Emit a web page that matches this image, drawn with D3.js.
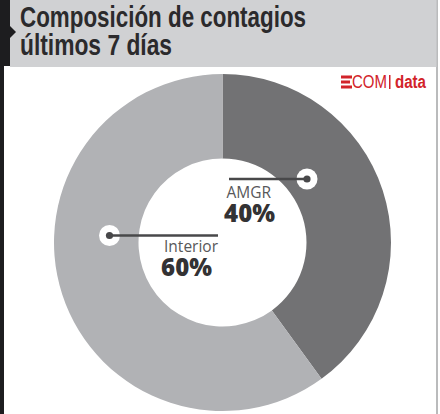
<!DOCTYPE html>
<html>
<head>
<meta charset="utf-8">
<script src="https://cdn.jsdelivr.net/npm/d3@7"></script>
<style>
  html, body { margin: 0; padding: 0; background: #fff; overflow: hidden; }
  text { font-family: "Open Sans", sans-serif; }
  .title { font-family: "Liberation Sans", sans-serif; font-weight: bold; font-size: 29px; fill: #2b2a2c; }
  .label { font-size: 15.5px; fill: #58585a; }
  .value { font-size: 24px; font-weight: 800; fill: #333234; }
  .logo { font-family: "Liberation Sans", sans-serif; fill: #d2232a; font-size: 18px; }
</style>
</head>
<body>
<div id="chart"></div>
<script>
// data
var categories = ["AMGR", "Interior"];
var shares = [40, 60];
var sliceColors = ["#727274", "#b1b2b5"];
var titleLines = ["Composición de contagios", "últimos 7 días"];
var titleWidths = [286, 152];

var width = 440, height = 414;
var cx = 222.5, cy = 242.5, outerR = 168.5, innerR = 84;

var svg = d3.select("#chart").append("svg")
  .attr("width", width)
  .attr("height", height);

// frame and header
svg.append("rect").attr("x", 0).attr("y", 0).attr("width", 4).attr("height", height).attr("fill", "#1d1d1f");
svg.append("rect").attr("x", 436.5).attr("y", 0).attr("width", 1).attr("height", height).attr("fill", "#77787a");
svg.append("rect").attr("x", 10).attr("y", 0).attr("width", 426.5).attr("height", 67).attr("fill", "#d0d1d3");
svg.append("rect").attr("x", 0).attr("y", 0).attr("width", 10).attr("height", 66).attr("fill", "#1d1d1f");
svg.append("path").attr("d", "M10,26L16,32L10,38Z").attr("fill", "#1d1d1f");

// condensed face is not installed, so squeeze the bold one
svg.selectAll("text.title").data(titleLines).enter().append("text")
  .attr("class", "title")
  .attr("x", 20)
  .attr("y", function (d, i) { return 27 + i * 28; })
  .attr("textLength", function (d, i) { return titleWidths[i]; })
  .attr("lengthAdjust", "spacingAndGlyphs")
  .text(function (d) { return d; });

// logo
var logo = svg.append("g");
[0, 1, 2].forEach(function (i) {
  logo.append("rect").attr("x", 341).attr("y", 75.5 + i * 5).attr("width", i == 1 ? 9 : 11).attr("height", 3).attr("fill", "#d2232a");
});
logo.append("text").attr("class", "logo").attr("x", 352).attr("y", 88)
  .attr("textLength", 35).attr("lengthAdjust", "spacingAndGlyphs").text("COM");
logo.append("rect").attr("x", 389).attr("y", 75).attr("width", 1.5).attr("height", 14).attr("fill", "#d2232a");
logo.append("text").attr("class", "logo").attr("x", 395).attr("y", 88)
  .style("font-weight", "bold")
  .attr("textLength", 31).attr("lengthAdjust", "spacingAndGlyphs").text("data");

// donut
var pie = d3.pie().sort(null).value(function (d) { return d; });
var arc = d3.arc().innerRadius(innerR).outerRadius(outerR);

svg.append("g")
  .attr("transform", "translate(" + cx + "," + cy + ")")
  .selectAll("path")
  .data(pie(shares))
  .enter().append("path")
  .attr("d", arc)
  .attr("fill", function (d, i) { return sliceColors[i]; });

// callouts, same order as categories
var callouts = [
  {dotX: 307, lineEnd: 229, y: 179, textX: 271, labelY: 198, valueY: 222, valueX: 275},
  {dotX: 109.5, lineEnd: 218, y: 235.5, textX: 218, labelY: 252, valueY: 276, valueX: 212}
];

callouts.forEach(function (c, i) {
  svg.append("circle").attr("cx", c.dotX).attr("cy", c.y).attr("r", 10.5).attr("fill", "#fff");
  svg.append("line")
    .attr("x1", c.dotX).attr("x2", c.lineEnd)
    .attr("y1", c.y).attr("y2", c.y)
    .attr("stroke", "#48484a").attr("stroke-width", 2.4);
  svg.append("circle").attr("cx", c.dotX).attr("cy", c.y).attr("r", 3.6).attr("fill", "#48484a");
  svg.append("text").attr("class", "label")
    .attr("x", c.textX).attr("y", c.labelY)
    .attr("text-anchor", "end")
    .text(categories[i]);
  svg.append("text").attr("class", "value")
    .attr("x", c.valueX).attr("y", c.valueY)
    .attr("text-anchor", "end")
    .text(shares[i] + "%");
});
</script>
</body>
</html>
